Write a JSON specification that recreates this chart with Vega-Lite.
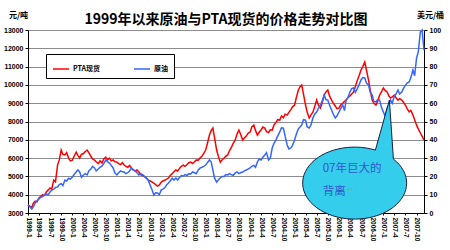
{
"$schema":"https://vega.github.io/schema/vega-lite/v6.json",
"width":396,"height":183,
"autosize":{"type":"none"},
"padding":{"left":28,"top":30,"right":26,"bottom":37},
"background":"white",
"config":{"view":{"stroke":null},"font":"Noto Sans CJK SC"},
"title":{"text":"1999年以来原油与PTA现货的价格走势对比图","fontSize":14,"fontWeight":"bold","font":"Noto Sans CJK SC","color":"black","anchor":"middle","frame":"group","baseline":"bottom","offset":-30},
"data":{"values":[
{"d":"1999/01/01","p":3440,"o":4.4},{"d":"1999/01/15","p":3380,"o":3.5},{"d":"1999/02/01","p":3300,"o":2.2},{"d":"1999/02/15","p":3550,"o":3.5},
{"d":"1999/03/01","p":3650,"o":5.5},{"d":"1999/03/15","p":3600,"o":6.5},{"d":"1999/04/01","p":3820,"o":7.7},{"d":"1999/04/15","p":3900,"o":8.5},
{"d":"1999/05/01","p":4000,"o":9},{"d":"1999/05/15","p":3950,"o":9.8},{"d":"1999/06/01","p":4150,"o":10.5},{"d":"1999/06/15","p":4250,"o":10},
{"d":"1999/07/01","p":4370,"o":11.5},{"d":"1999/07/15","p":4300,"o":12.5},{"d":"1999/08/01","p":4800,"o":13},{"d":"1999/08/15","p":4700,"o":14},
{"d":"1999/09/01","p":5620,"o":14.2},{"d":"1999/09/15","p":5900,"o":15.5},{"d":"1999/10/01","p":6440,"o":16},{"d":"1999/10/15","p":6200,"o":15},
{"d":"1999/11/01","p":6170,"o":18},{"d":"1999/11/15","p":6300,"o":17.5},{"d":"1999/12/01","p":6000,"o":19},{"d":"1999/12/15","p":5850,"o":18.5},
{"d":"2000/01/01","p":5890,"o":19.7},{"d":"2000/01/15","p":6100,"o":21},{"d":"2000/02/01","p":6330,"o":22.4},{"d":"2000/02/15","p":6150,"o":23.5},
{"d":"2000/03/01","p":6000,"o":22.4},{"d":"2000/03/15","p":6200,"o":19.5},{"d":"2000/04/01","p":6250,"o":20.8},{"d":"2000/04/15","p":6350,"o":21.5},
{"d":"2000/05/01","p":6440,"o":20.8},{"d":"2000/05/15","p":6300,"o":23},{"d":"2000/06/01","p":6100,"o":24},{"d":"2000/06/15","p":5950,"o":25.5},
{"d":"2000/07/01","p":5890,"o":24.6},{"d":"2000/07/15","p":5800,"o":23},{"d":"2000/08/01","p":5700,"o":24},{"d":"2000/08/15","p":5850,"o":25},
{"d":"2000/09/01","p":5730,"o":25.7},{"d":"2000/09/15","p":5950,"o":27},{"d":"2000/10/01","p":6050,"o":29},{"d":"2000/10/15","p":5900,"o":28},
{"d":"2000/11/01","p":6000,"o":27.3},{"d":"2000/11/15","p":5850,"o":26},{"d":"2000/12/01","p":5900,"o":24.6},{"d":"2000/12/15","p":5800,"o":22},
{"d":"2001/01/01","p":5780,"o":20.8},{"d":"2001/01/15","p":5700,"o":22},{"d":"2001/02/01","p":5650,"o":23},{"d":"2001/02/15","p":5750,"o":22.5},
{"d":"2001/03/01","p":5620,"o":22.4},{"d":"2001/03/15","p":5550,"o":21.5},{"d":"2001/04/01","p":5500,"o":22},{"d":"2001/04/15","p":5600,"o":23},
{"d":"2001/05/01","p":5460,"o":24.6},{"d":"2001/05/15","p":5350,"o":23.5},{"d":"2001/06/01","p":5300,"o":23},{"d":"2001/06/15","p":5350,"o":22},
{"d":"2001/07/01","p":5240,"o":20.8},{"d":"2001/07/15","p":5100,"o":21.5},{"d":"2001/08/01","p":5050,"o":21},{"d":"2001/08/15","p":5000,"o":20},
{"d":"2001/09/01","p":4910,"o":19.1},{"d":"2001/09/15","p":4800,"o":18},{"d":"2001/10/01","p":4750,"o":15.3},{"d":"2001/10/15","p":4700,"o":13},
{"d":"2001/11/01","p":4640,"o":9.8},{"d":"2001/11/15","p":4550,"o":11},{"d":"2001/12/01","p":4470,"o":10.9},{"d":"2001/12/15","p":4520,"o":10},
{"d":"2002/01/01","p":4690,"o":12.6},{"d":"2002/01/15","p":4750,"o":13},{"d":"2002/02/01","p":4800,"o":14},{"d":"2002/02/15","p":4850,"o":15.5},
{"d":"2002/03/01","p":4910,"o":16.4},{"d":"2002/03/15","p":5050,"o":17.5},{"d":"2002/04/01","p":5150,"o":19},{"d":"2002/04/15","p":5250,"o":18},
{"d":"2002/05/01","p":5350,"o":19.1},{"d":"2002/05/15","p":5300,"o":18},{"d":"2002/06/01","p":5450,"o":19.5},{"d":"2002/06/15","p":5550,"o":20.5},
{"d":"2002/07/01","p":5620,"o":20.2},{"d":"2002/07/15","p":5550,"o":21},{"d":"2002/08/01","p":5650,"o":20.5},{"d":"2002/08/15","p":5750,"o":21.5},
{"d":"2002/09/01","p":5780,"o":21.3},{"d":"2002/09/15","p":5700,"o":22.5},{"d":"2002/10/01","p":5800,"o":22},{"d":"2002/10/15","p":5900,"o":21.5},
{"d":"2002/11/01","p":5890,"o":23.5},{"d":"2002/11/15","p":6000,"o":24.5},{"d":"2002/12/01","p":6100,"o":25},{"d":"2002/12/15","p":6250,"o":25.5},
{"d":"2003/01/01","p":6440,"o":26.2},{"d":"2003/01/15","p":6800,"o":27.5},{"d":"2003/02/01","p":7260,"o":29},{"d":"2003/02/15","p":7500,"o":28},
{"d":"2003/03/01","p":7640,"o":23.5},{"d":"2003/03/15","p":7100,"o":19},{"d":"2003/04/01","p":6440,"o":16.9},{"d":"2003/04/15","p":6100,"o":18},
{"d":"2003/05/01","p":5780,"o":19.1},{"d":"2003/05/15","p":5900,"o":20},{"d":"2003/06/01","p":6000,"o":20},{"d":"2003/06/15","p":6100,"o":21},
{"d":"2003/07/01","p":6170,"o":20.8},{"d":"2003/07/15","p":6400,"o":21.5},{"d":"2003/08/01","p":6600,"o":21},{"d":"2003/08/15","p":6800,"o":20.5},
{"d":"2003/09/01","p":6990,"o":21.9},{"d":"2003/09/15","p":7300,"o":22.5},{"d":"2003/10/01","p":7530,"o":21.5},{"d":"2003/10/15","p":7300,"o":22},
{"d":"2003/11/01","p":6990,"o":22.4},{"d":"2003/11/15","p":7100,"o":23},{"d":"2003/12/01","p":7200,"o":23.5},{"d":"2003/12/15","p":7350,"o":24},
{"d":"2004/01/01","p":7420,"o":24.6},{"d":"2004/01/15","p":7700,"o":25.5},{"d":"2004/02/01","p":7800,"o":26},{"d":"2004/02/15","p":7500,"o":25},
{"d":"2004/03/01","p":7260,"o":27.9},{"d":"2004/03/15","p":7400,"o":29.5},{"d":"2004/04/01","p":7550,"o":29},{"d":"2004/04/15","p":7700,"o":30.5},
{"d":"2004/05/01","p":7640,"o":31.7},{"d":"2004/05/15","p":7450,"o":33},{"d":"2004/06/01","p":7400,"o":29},{"d":"2004/06/15","p":7550,"o":30},
{"d":"2004/07/01","p":7530,"o":35.5},{"d":"2004/07/15","p":7800,"o":38},{"d":"2004/08/01","p":7950,"o":40},{"d":"2004/08/15","p":8100,"o":42},
{"d":"2004/09/01","p":8080,"o":44.3},{"d":"2004/09/15","p":8300,"o":46.5},{"d":"2004/10/01","p":8200,"o":46.4},{"d":"2004/10/15","p":8400,"o":42},
{"d":"2004/11/01","p":8350,"o":37.2},{"d":"2004/11/15","p":8500,"o":35},{"d":"2004/12/01","p":8650,"o":35.5},{"d":"2004/12/15","p":8800,"o":37},
{"d":"2005/01/01","p":8900,"o":39.9},{"d":"2005/01/15","p":9300,"o":43},{"d":"2005/02/01","p":9720,"o":46},{"d":"2005/02/15","p":9900,"o":47},
{"d":"2005/03/01","p":9990,"o":48.1},{"d":"2005/03/15","p":9500,"o":51},{"d":"2005/04/01","p":8900,"o":50.8},{"d":"2005/04/15","p":8500,"o":47},
{"d":"2005/05/01","p":8190,"o":46.4},{"d":"2005/05/15","p":8350,"o":48},{"d":"2005/06/01","p":8520,"o":52},{"d":"2005/06/15","p":8800,"o":54},
{"d":"2005/07/01","p":9170,"o":55.2},{"d":"2005/07/15","p":8900,"o":57},{"d":"2005/08/01","p":8730,"o":59},{"d":"2005/08/15","p":9000,"o":61},
{"d":"2005/09/01","p":9440,"o":64.5},{"d":"2005/09/15","p":9600,"o":62},{"d":"2005/10/01","p":9720,"o":61.7},{"d":"2005/10/15","p":9400,"o":59},
{"d":"2005/11/01","p":9170,"o":56.3},{"d":"2005/11/15","p":9000,"o":54},{"d":"2005/12/01","p":8850,"o":51.9},{"d":"2005/12/15","p":8700,"o":53},
{"d":"2006/01/01","p":8730,"o":55.2},{"d":"2006/01/15","p":8900,"o":57},{"d":"2006/02/01","p":9000,"o":59},{"d":"2006/02/15","p":9100,"o":56},
{"d":"2006/03/01","p":9170,"o":61.7},{"d":"2006/03/15","p":9300,"o":63},{"d":"2006/04/01","p":9400,"o":66.1},{"d":"2006/04/15","p":9500,"o":68},
{"d":"2006/05/01","p":9610,"o":68.3},{"d":"2006/05/15","p":9900,"o":66},{"d":"2006/06/01","p":10260,"o":68},{"d":"2006/06/15","p":10500,"o":70},
{"d":"2006/07/01","p":10810,"o":72.7},{"d":"2006/07/15","p":11000,"o":74},{"d":"2006/08/01","p":11250,"o":73.8},{"d":"2006/08/15","p":10800,"o":71},
{"d":"2006/09/01","p":10260,"o":69.9},{"d":"2006/09/15","p":9700,"o":66},{"d":"2006/10/01","p":9170,"o":64.5},{"d":"2006/10/15","p":9000,"o":61},
{"d":"2006/11/01","p":8900,"o":60.7},{"d":"2006/11/15","p":9100,"o":62},{"d":"2006/12/01","p":9440,"o":61.7},{"d":"2006/12/15","p":9600,"o":58},
{"d":"2007/01/01","p":9830,"o":55.2},{"d":"2007/01/15","p":9700,"o":53},{"d":"2007/02/01","p":9610,"o":57.4},{"d":"2007/02/15","p":9400,"o":59},
{"d":"2007/03/01","p":9280,"o":61.7},{"d":"2007/03/15","p":9350,"o":60},{"d":"2007/04/01","p":9440,"o":63.9},{"d":"2007/04/15","p":9300,"o":65},
{"d":"2007/05/01","p":9170,"o":67.2},{"d":"2007/05/15","p":9250,"o":65},{"d":"2007/06/01","p":9170,"o":66.1},{"d":"2007/06/15","p":9050,"o":68},
{"d":"2007/07/01","p":8900,"o":69.9},{"d":"2007/07/15","p":8700,"o":71},{"d":"2007/08/01","p":8520,"o":71.6},{"d":"2007/08/15","p":8600,"o":74},
{"d":"2007/09/01","p":8350,"o":78.1},{"d":"2007/09/15","p":8100,"o":75},{"d":"2007/10/01","p":7800,"o":84.7},{"d":"2007/10/15","p":7600,"o":88},
{"d":"2007/11/01","p":7370,"o":98.9},{"d":"2007/11/15","p":7200,"o":100},{"d":"2007/12/01","p":6990,"o":89}
]},
"layer":[
{"mark":{"type":"line","strokeWidth":1.5},
 "encoding":{
  "x":{"field":"d","type":"temporal","scale":{"domain":[{"year":1999,"month":1,"date":1},{"year":2007,"month":12,"date":1}]},
   "axis":{"title":null,"tickCount":{"interval":"month","step":3},"format":"%Y-%-m","labelAngle":90,"labelAlign":"left","labelBaseline":"middle","labelFont":"Liberation Sans","labelFontSize":6.5,"labelFontWeight":"bold","labelColor":"black","labelOverlap":false,"labelFlush":false,"labelPadding":2,"tickSize":2,"tickColor":"black","domainColor":"black","grid":false}},
  "y":{"field":"p","type":"quantitative","scale":{"domain":[3000,13000],"nice":false,"zero":false},
   "axis":{"values":[3000,4000,5000,6000,7000,8000,9000,10000,11000,12000,13000],"format":"d","grid":true,"gridColor":"#8c8c8c","gridWidth":1,"domainColor":"black","tickColor":"black","tickSize":3,"labelFont":"Liberation Sans","labelFontSize":7,"labelFontWeight":"bold","labelColor":"black","labelPadding":2,
    "title":"元/吨","titleAngle":0,"titleX":-10,"titleY":-15,"titleAlign":"center","titleBaseline":"middle","titleFontSize":8,"titleFontWeight":"bold","titleColor":"black","titleFont":"Noto Sans CJK SC"}},
  "color":{"datum":"PTA现货","scale":{"domain":["PTA现货","原油"],"range":["#ff0000","#3366ff"]},
   "legend":{"title":null,"orient":"none","legendX":18,"legendY":24,"direction":"horizontal","symbolType":"stroke","symbolSize":256,"symbolStrokeWidth":1.5,"labelFontSize":7,"labelFontWeight":"bold","labelFont":"Noto Sans CJK SC","labelColor":"black","strokeColor":"black","fillColor":"white","padding":6,"columnPadding":30,"labelOffset":3}}
 }},
{"mark":{"type":"line","strokeWidth":1.5},
 "encoding":{
  "x":{"field":"d","type":"temporal"},
  "y":{"field":"o","type":"quantitative","scale":{"domain":[0,100],"nice":false},
   "axis":{"orient":"right","values":[0,10,20,30,40,50,60,70,80,90,100],"grid":false,"domainColor":"black","tickColor":"black","tickSize":3,"labelFont":"Liberation Sans","labelFontSize":7,"labelFontWeight":"bold","labelColor":"black","labelPadding":2,
    "title":"美元/桶","titleAngle":0,"titleX":6,"titleY":-15,"titleAlign":"center","titleBaseline":"middle","titleFontSize":8,"titleFontWeight":"bold","titleColor":"black","titleFont":"Noto Sans CJK SC"}},
  "color":{"datum":"原油"}
 }},
{"data":{"values":[{"d":"2006/05/16","v":4580}]},
 "mark":{"type":"point","shape":"M0.38,-0.25 L0.34,-0.84 L0.2,-0.34 A0.52,0.36 0 1 0 0.38,-0.25 Z","size":40000,"filled":true,"fill":"#35cdec","stroke":"#1a2040","strokeWidth":1,"opacity":1},
 "encoding":{"x":{"field":"d","type":"temporal"},"y":{"field":"v","type":"quantitative","scale":{"domain":[3000,13000],"nice":false,"zero":false},"axis":null}}},
{"data":{"values":[{"d":"2005/08/20","v":5400,"t":"07年巨大的"},{"d":"2005/08/20","v":4150,"t":"背离"}]},
 "mark":{"type":"text","align":"left","baseline":"middle","fontSize":11.5,"color":"#3355cc","font":"Noto Sans CJK SC"},
 "encoding":{"x":{"field":"d","type":"temporal"},"y":{"field":"v","type":"quantitative","scale":{"domain":[3000,13000],"nice":false,"zero":false},"axis":null},"text":{"field":"t"}}},
{"data":{"values":[{"d":"2006/03/13","v":4250,"t":"↵"}]},
 "mark":{"type":"text","align":"left","baseline":"middle","fontSize":7,"color":"#88aa88","font":"DejaVu Sans"},
 "encoding":{"x":{"field":"d","type":"temporal"},"y":{"field":"v","type":"quantitative","scale":{"domain":[3000,13000],"nice":false,"zero":false},"axis":null},"text":{"field":"t"}}}
],
"resolve":{"scale":{"y":"independent"}}
}
